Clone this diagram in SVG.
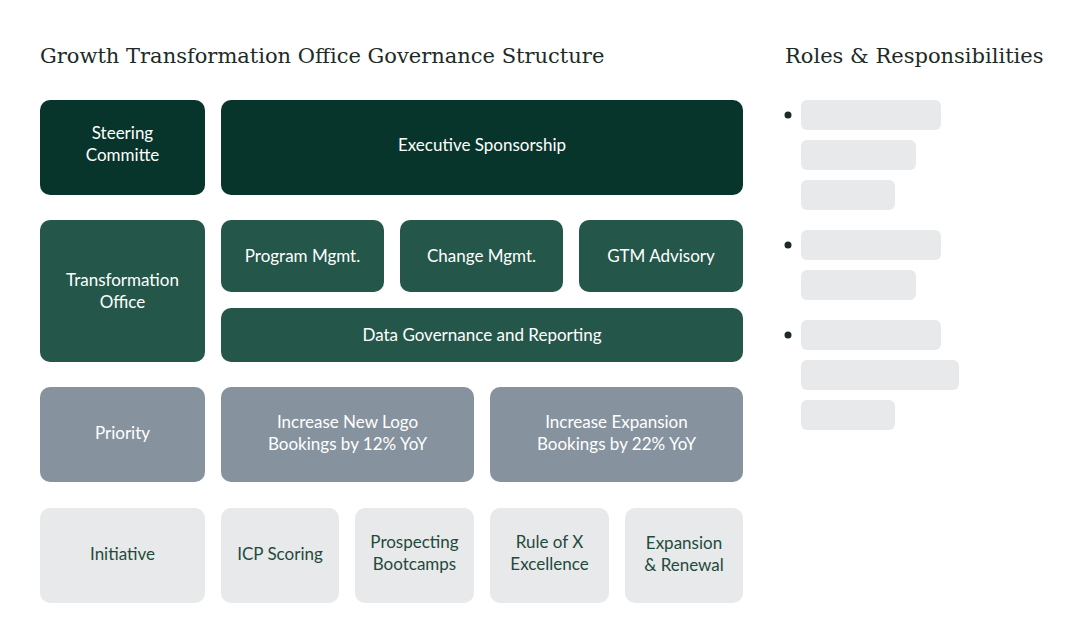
<svg xmlns="http://www.w3.org/2000/svg" width="1080" height="644" viewBox="0 0 1080 644">
<style>
.t{font-family:"DejaVu Serif","Liberation Serif",serif;font-size:21px;fill:#1e2a26}
.l{font-family:Lato,"Open Sans",sans-serif;font-size:17px;text-anchor:middle}
.w{fill:#ffffff}.g{fill:#1f4a3c}
.d{fill:#08352b}.m{fill:#24574a}.p{fill:#86929e}.s{fill:#e8e9ea}
.b{fill:#e8e9ea}
</style>
<rect width="1080" height="644" fill="#fff"/>
<text class="t" x="40" y="63">Growth Transformation Office Governance Structure</text>
<text class="t" x="785" y="63">Roles &amp; Responsibilities</text>
<g id="steering"><rect class="d" x="40" y="100" width="165" height="95" rx="10"/><text class="l w" x="122.5" y="139">Steering</text><text class="l w" x="122.5" y="161">Committe</text></g>
<g id="executive"><rect class="d" x="221" y="100" width="522" height="95" rx="10"/><text class="l w" x="482" y="151">Executive Sponsorship</text></g>
<g id="transformation"><rect class="m" x="40" y="220" width="165" height="142" rx="10"/><text class="l w" x="122.5" y="286">Transformation</text><text class="l w" x="122.5" y="308">Office</text></g>
<g id="program"><rect class="m" x="221" y="220" width="163" height="72" rx="10"/><text class="l w" x="302.5" y="262">Program Mgmt.</text></g>
<g id="change"><rect class="m" x="400" y="220" width="163" height="72" rx="10"/><text class="l w" x="481.5" y="262">Change Mgmt.</text></g>
<g id="gtm"><rect class="m" x="579" y="220" width="164" height="72" rx="10"/><text class="l w" x="661" y="262">GTM Advisory</text></g>
<g id="data"><rect class="m" x="221" y="308" width="522" height="54" rx="10"/><text class="l w" x="482" y="341">Data Governance and Reporting</text></g>
<g id="priority"><rect class="p" x="40" y="387" width="165" height="95" rx="10"/><text class="l w" x="122.5" y="439">Priority</text></g>
<g id="newlogo"><rect class="p" x="221" y="387" width="253" height="95" rx="10"/><text class="l w" x="347.5" y="428">Increase New Logo</text><text class="l w" x="347.5" y="450">Bookings by 12% YoY</text></g>
<g id="expansion"><rect class="p" x="490" y="387" width="253" height="95" rx="10"/><text class="l w" x="616.5" y="428">Increase Expansion</text><text class="l w" x="616.5" y="450">Bookings by 22% YoY</text></g>
<g id="initiative"><rect class="s" x="40" y="508" width="165" height="95" rx="10"/><text class="l g" x="122.5" y="560">Initiative</text></g>
<g id="icp"><rect class="s" x="221" y="508" width="118" height="95" rx="10"/><text class="l g" x="280" y="560">ICP Scoring</text></g>
<g id="prospecting"><rect class="s" x="355" y="508" width="119" height="95" rx="10"/><text class="l g" x="414.5" y="548">Prospecting</text><text class="l g" x="414.5" y="570">Bootcamps</text></g>
<g id="rule"><rect class="s" x="490" y="508" width="119" height="95" rx="10"/><text class="l g" x="549.5" y="548">Rule of X</text><text class="l g" x="549.5" y="570">Excellence</text></g>
<g id="renewal"><rect class="s" x="625" y="508" width="118" height="95" rx="10"/><text class="l g" x="684" y="549">Expansion</text><text class="l g" x="684" y="571">&amp; Renewal</text></g>
<g id="connectors"></g>
<g id="roles">
<circle cx="788" cy="115" r="3.5" fill="#1e2a26"/><circle cx="788" cy="245" r="3.5" fill="#1e2a26"/><circle cx="788" cy="335" r="3.5" fill="#1e2a26"/>
<rect class="b" x="801" y="100" width="140" height="30" rx="6"/>
<rect class="b" x="801" y="140" width="115" height="30" rx="6"/>
<rect class="b" x="801" y="180" width="94" height="30" rx="6"/>
<rect class="b" x="801" y="230" width="140" height="30" rx="6"/>
<rect class="b" x="801" y="270" width="115" height="30" rx="6"/>
<rect class="b" x="801" y="320" width="140" height="30" rx="6"/>
<rect class="b" x="801" y="360" width="158" height="30" rx="6"/>
<rect class="b" x="801" y="400" width="94" height="30" rx="6"/>
</g>
</svg>
